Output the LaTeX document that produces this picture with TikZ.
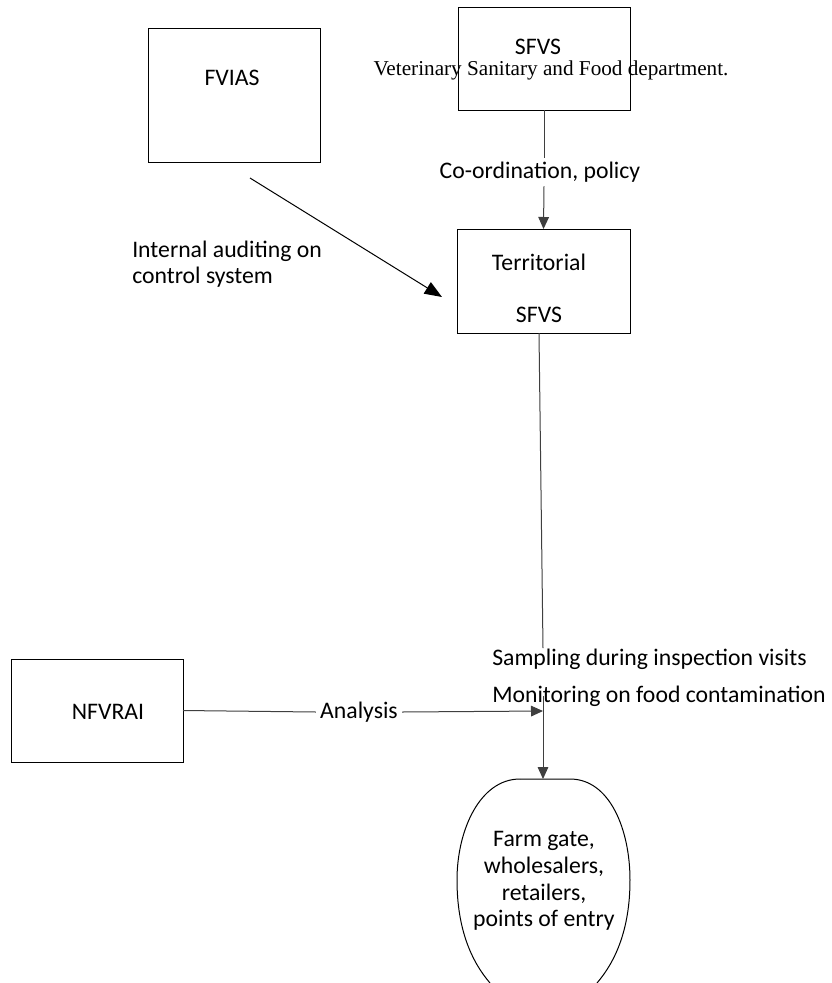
\documentclass[tikz,border=0pt]{standalone}
\usepackage{fontspec}
\setmainfont{Carlito}
\newfontfamily\timesfont{Liberation Serif}
\usepackage{xcolor}
\usetikzlibrary{arrows.meta}
\definecolor{ink}{HTML}{000000}
\definecolor{wire}{HTML}{3F3F3F}
\tikzset{
  box/.style={draw=ink, line width=0.75pt, inner sep=0pt, outer sep=0pt},
  wirel/.style={draw=wire, line width=0.75pt},
  tip/.style={-{Triangle[length=9pt,width=8pt]}},
  bigtip/.style={-{Triangle[length=13pt,width=10pt]}},
  lab/.style={font=\fontsize{17.8}{20}\selectfont, inner sep=0pt},
  labt/.style={font=\timesfont\fontsize{15.9}{18}\selectfont, inner sep=0pt},
  labpad/.style={lab, inner sep=3pt}
}
\begin{document}
\begin{tikzpicture}[x=0.75pt,y=-0.75pt]
  \useasboundingbox (0,0) rectangle (832,983);
  \node[box, minimum width=129pt, minimum height=100.5pt] (fvias) at (234,95) {};
  \node[box, minimum width=129pt, minimum height=77.25pt] (sfvs) at (544,58.5) {};
  \node[box, minimum width=129.75pt, minimum height=78pt] (terr) at (543.5,281) {};
  \node[box, minimum width=129pt, minimum height=77.25pt] (nfvrai) at (97,710.5) {};

  \node[lab] (fviasT) at (232,78) {FVIAS};
  \node[lab] (sfvsT) at (538,47) {SFVS};
  \node[labt] (vet) at (551,70) {Veterinary Sanitary and Food department.};
  \node[lab] (terrT) at (539,262) {Territorial};
  \node[lab] (terrS) at (539,315) {SFVS};
  \node[lab] (nfvraiT) at (108,712) {NFVRAI};

  \node[labpad] (coord) at (540,172) {Co-ordination, policy};
  \node[lab, align=left, anchor=west] (audit) at (132,264) {Internal auditing on\\control system};
  \node[lab, anchor=west] (sampling) at (492,659) {Sampling during inspection visits};
  \node[lab, anchor=west] (monitor) at (492,696) {Monitoring on food contamination};
  \node[labpad] (analysis) at (359,712) {Analysis};
  \node[lab, align=center] (farm) at (544,881) {Farm gate,\\wholesalers,\\retailers,\\points of entry};

  \coordinate (auditTail) at (250,178);
  \coordinate (auditTip) at (442,297);
  \coordinate (sampleEnd) at (543,648);
  \coordinate (monStart) at (543,696);
  \coordinate (analysisTip) at (543,711);
  \coordinate (farmTop) at (543,779);

  \draw[box] (520,779) -- (570,779)
    .. controls (610,779) and (630,830) .. (630,880)
    .. controls (630,930) and (615,962) .. (597,983);
  \draw[box] (520,779)
    .. controls (480,779) and (457,830) .. (457,880)
    .. controls (457,930) and (472,962) .. (490,983);

  \draw[wirel] (sfvs.south) -- (sfvs.south |- coord.north);
  \draw[wirel, tip] (sfvs.south |- coord.south) -- (terr.north);
  \draw[draw=ink, line width=0.75pt, bigtip] (auditTail) -- (auditTip);
  \draw[wirel] (terr.south -| terrT) -- (sampleEnd);
  \draw[wirel] (nfvrai.east) -- (analysis.west);
  \draw[wirel, tip] (analysis.east) -- (analysisTip);
  \draw[wirel, tip] (monStart) -- (farmTop);
\end{tikzpicture}
\end{document}
